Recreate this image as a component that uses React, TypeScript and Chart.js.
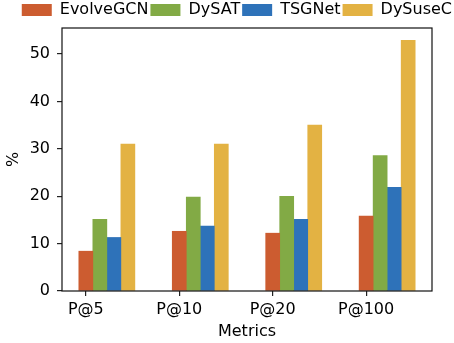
import React, { useEffect, useRef } from 'react';
import { Chart, registerables } from 'chart.js';

Chart.register(...registerables);

const categories = ['P@5', 'P@10', 'P@20', 'P@100'];
const seriesNames = ['EvolveGCN', 'DySAT', 'TSGNet', 'DySuseC'];
const evolveGCN = [8.4, 12.6, 12.2, 15.8];
const dySAT = [15.1, 19.8, 20.0, 28.6];
const tsgNet = [11.3, 13.7, 15.1, 21.9];
const dySuseC = [31.0, 31.0, 35.0, 52.9];
const yTicks = [0, 10, 20, 30, 40, 50];
const colors = ['#CC5C30', '#82AA45', '#2E72B9', '#E3B243'];

export default function App() {
  const ref = useRef<HTMLCanvasElement>(null);

  useEffect(() => {
    document.body.style.margin = '0';
    const canvas = ref.current;
    if (!canvas) return;
    Chart.defaults.font.family = '"DejaVu Sans", sans-serif';
    Chart.defaults.color = '#000';

    const BAR_W = 0.15;
    const series = [evolveGCN, dySAT, tsgNet, dySuseC];
    const datasets = series.map((vals, k) => ({
      label: seriesNames[k],
      data: vals.map((v, i) => ({ x: i + k * BAR_W, y: v })),
      backgroundColor: colors[k],
      borderWidth: 0,
      grouped: false,
      categoryPercentage: 1,
      barPercentage: 1,
    }));
    const lo = -BAR_W / 2;
    const hi = categories.length - 1 + (series.length - 0.5) * BAR_W;
    const m = (hi - lo) * 0.05;

    const frame = {
      id: 'frame',
      afterDatasetsDraw(chart: any) {
        const { ctx, chartArea: a } = chart;
        ctx.save();
        ctx.strokeStyle = '#111';
        ctx.lineWidth = 1.2;
        ctx.strokeRect(a.left, a.top, a.right - a.left, a.bottom - a.top);
        ctx.restore();
      },
    };

    const chart = new Chart(canvas, {
      type: 'bar',
      data: { datasets: datasets as any },
      plugins: [frame],
      options: {
        animation: false,
        responsive: false,
        devicePixelRatio: 1,
        layout: { padding: { left: 0, right: 0, top: 0, bottom: 0 } },
        plugins: {
          tooltip: { enabled: false },
          legend: {
            position: 'top',
            align: 'end',
            labels: {
              boxWidth: 30,
              boxHeight: 12,
              padding: 2,
              font: { size: 16 },
              color: '#000',
            },
          },
        },
        scales: {
          x: {
            type: 'linear',
            min: lo - m,
            max: hi + m,
            offset: false,
            grid: { offset: false, drawOnChartArea: false, drawTicks: true, tickLength: 5, color: '#222', lineWidth: 1.2 },
            border: { display: false },
            afterBuildTicks: (s: any) => {
              s.ticks = categories.map((_, i) => ({ value: i }));
            },
            afterFit: (s: any) => {
              s.height = 52;
            },
            ticks: {
              autoSkip: false,
              maxRotation: 0,
              padding: 4,
              font: { size: 16 },
              color: '#000',
              callback: (v: any) => categories[Math.round(Number(v))] ?? '',
            },
            title: { display: true, text: 'Metrics', font: { size: 16 }, color: '#000', padding: { top: 0, bottom: 2 } },
          },
          y: {
            type: 'linear',
            min: 0,
            max: 55.5,
            grid: { drawOnChartArea: false, drawTicks: true, tickLength: 5, color: '#222', lineWidth: 1.2 },
            border: { display: false },
            afterBuildTicks: (s: any) => {
              s.ticks = yTicks.map((v) => ({ value: v }));
            },
            afterFit: (s: any) => {
              s.width = 62;
            },
            ticks: {
              padding: 7,
              font: { size: 16 },
              color: '#000',
            },
            title: { display: true, text: '%', font: { size: 16 }, color: '#000', padding: { top: 4, bottom: 4 } },
          },
          yRight: {
            type: 'linear',
            position: 'right',
            display: true,
            grid: { display: false },
            border: { display: false },
            ticks: { display: false },
            afterFit: (s: any) => {
              s.width = 22;
            },
          },
        },
      } as any,
    });
    return () => chart.destroy();
  }, []);

  return (
    <div style={{ width: 454, height: 343 }}>
      <canvas ref={ref} width={454} height={343} />
    </div>
  );
}
